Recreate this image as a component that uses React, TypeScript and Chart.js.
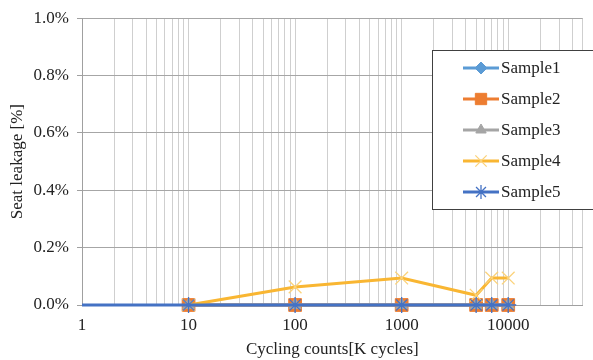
import { useEffect, useRef } from 'react';
import { Chart, registerables } from 'chart.js';
import { drawPoint } from 'chart.js/helpers';

Chart.register(...registerables);

const cycles = [10, 100, 1000, 5000, 7000, 10000];
const sample5Cycles = [1, 10, 100, 1000, 5000, 7000, 10000];
const sample1 = [0, 0, 0, 0, 0, 0];
const sample2 = [0, 0, 0, 0, 0, 0];
const sample3 = [0, 0, 0, 0, 0, 0];
const sample4 = [0, 0.063, 0.094, 0.034, 0.094, 0.094];
const sample5 = [0, 0, 0, 0, 0, 0, 0];
const seriesNames = ['Sample1', 'Sample2', 'Sample3', 'Sample4', 'Sample5'];
const seriesColors = ['#5B9BD5', '#ED7D31', '#A5A5A5', '#F9B632', '#4472C4'];
const yTicks = [0, 0.2, 0.4, 0.6, 0.8, 1.0];
const xMin = 1;
const xMax = 50000;

const FONT = '"Liberation Serif", "Times New Roman", serif';

function buildXTicks() {
  const out: number[] = [];
  for (let d = 1; d <= 10000; d *= 10) {
    for (let m = 1; m <= 9; m++) {
      const v = d * m;
      if (v >= xMin && v <= xMax) out.push(v);
    }
  }
  return out;
}

const legendPlugin = {
  id: 'boxLegend',
  afterDraw(chart: any) {
    const ctx = chart.ctx;
    const x0 = 432;
    const y0 = 50;
    const w = 170;
    const h = 159;
    ctx.save();
    ctx.fillStyle = '#ffffff';
    ctx.fillRect(x0, y0, w, h);
    ctx.strokeStyle = '#404040';
    ctx.lineWidth = 1;
    ctx.strokeRect(x0 + 0.5, y0 + 0.5, w, h);
    const dsets = chart.data.datasets;
    for (let i = 0; i < dsets.length; i++) {
      const ds = dsets[i];
      const cy = y0 + 18 + i * 31;
      ctx.strokeStyle = ds.borderColor;
      ctx.lineWidth = ds.borderWidth;
      ctx.beginPath();
      ctx.moveTo(463, cy);
      ctx.lineTo(499, cy);
      ctx.stroke();
      ctx.fillStyle = ds.pointBackgroundColor;
      ctx.strokeStyle = ds.pointBorderColor;
      ctx.lineWidth = ds.pointBorderWidth;
      drawPoint(ctx, { pointStyle: ds.pointStyle, radius: ds.legendRadius, rotation: 0, borderWidth: ds.pointBorderWidth }, 481, cy);
      ctx.fillStyle = '#222222';
      ctx.font = '17px ' + FONT;
      ctx.textBaseline = 'middle';
      ctx.textAlign = 'left';
      ctx.fillText(ds.label, 501, cy + 1);
    }
    ctx.restore();
  },
};

export default function App() {
  const ref = useRef<HTMLCanvasElement | null>(null);
  useEffect(() => {
    document.body.style.margin = '0';
    const canvas = ref.current;
    if (!canvas) return;
    const styles = ['rectRot', 'rect', 'triangle', 'crossRot', 'star'];
    const radii = [7, 9, 7, 9, 8];
    const legendRadii = [6, 8, 6, 8, 7];
    const values = [sample1, sample2, sample3, sample4, sample5];
    const datasets = values.map((vals, i) => {
      const xs = i === 4 ? sample5Cycles : cycles;
      return {
        label: seriesNames[i],
        data: vals.map((v, j) => ({ x: xs[j], y: v })),
        borderColor: seriesColors[i],
        backgroundColor: seriesColors[i],
        borderWidth: 3,
        pointStyle: styles[i],
        pointRadius: (c: any) => (c.raw && c.raw.x === 1 ? 0 : radii[i]),
        legendRadius: legendRadii[i],
        pointBackgroundColor: seriesColors[i],
        pointBorderColor: i === 3 ? '#FBD27A' : seriesColors[i],
        pointBorderWidth: i === 3 || i === 4 ? 1.3 : 1,
        pointHoverRadius: radii[i],
        tension: 0,
        fill: false,
        order: 5 - i,
        clip: false as any,
      };
    });
    const xTickValues = buildXTicks();
    const chart = new Chart(canvas, {
      type: 'line',
      data: { datasets: datasets as any },
      plugins: [legendPlugin],
      options: {
        animation: false,
        responsive: false,
        maintainAspectRatio: false,
        layout: { padding: { top: 17, right: 5, left: 0, bottom: 0 } },
        plugins: { legend: { display: false }, tooltip: { enabled: false } },
        scales: {
          x: {
            type: 'logarithmic',
            min: xMin,
            max: xMax,
            afterBuildTicks: (scale: any) => {
              scale.ticks = xTickValues.map((v) => ({ value: v, major: false }));
            },
            afterFit: (scale: any) => {
              scale.height = 55;
            },
            grid: { color: '#cfcfcf', lineWidth: 1, drawTicks: false },
            border: { color: '#a0a0a0', width: 1 },
            ticks: {
              autoSkip: false,
              maxRotation: 0,
              padding: 10,
              color: '#222222',
              font: { family: FONT, size: 17 },
              callback: (v: any) => {
                const l = Math.log10(Number(v));
                return Math.abs(l - Math.round(l)) < 1e-9 ? String(v) : '';
              },
            },
            title: {
              display: true,
              text: 'Cycling counts[K cycles]',
              color: '#222222',
              font: { family: FONT, size: 17 },
              padding: { top: 0, bottom: 0 },
            },
          },
          y: {
            min: 0,
            max: 1,
            afterBuildTicks: (scale: any) => {
              scale.ticks = yTicks.map((v) => ({ value: v }));
            },
            afterFit: (scale: any) => {
              scale.width = 82;
            },
            grid: { color: '#a6a6a6', lineWidth: 1, drawTicks: true, tickLength: 5, tickColor: '#a0a0a0' },
            border: { color: '#a0a0a0', width: 1 },
            ticks: {
              padding: 8,
              color: '#222222',
              font: { family: FONT, size: 17 },
              callback: (v: any) => Number(v).toFixed(1) + '%',
            },
            title: {
              display: true,
              text: 'Seat leakage [%]',
              color: '#222222',
              font: { family: FONT, size: 17 },
              padding: { top: 7, bottom: 0 },
            },
          },
        },
      },
    });
    return () => chart.destroy();
  }, []);
  return (
    <div style={{ position: 'absolute', left: 0, top: 0, width: 593, height: 360 }}>
      <canvas ref={ref} width={593} height={360} style={{ width: 593, height: 360, display: 'block' }} />
    </div>
  );
}
